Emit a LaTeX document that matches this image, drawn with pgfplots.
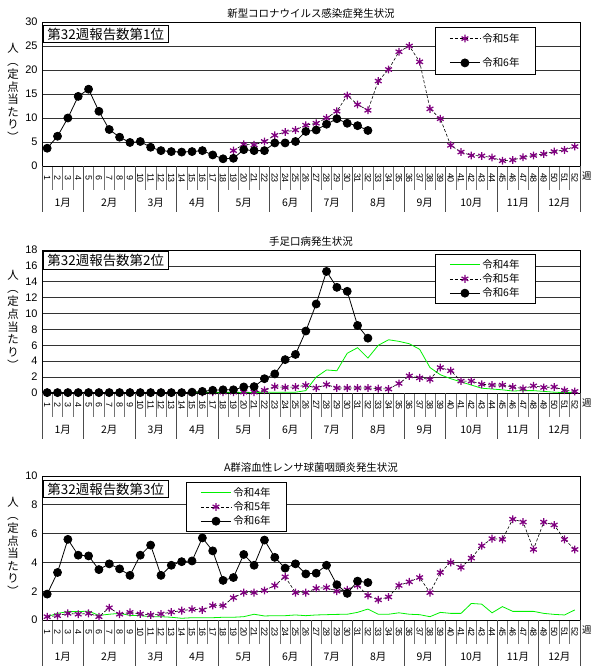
\documentclass[border=0pt]{standalone}
\usepackage{pgfplots}
\pgfplotsset{compat=1.18}
\usepackage{graphicx}
\usepackage{fontspec}
\setmainfont{Liberation Sans}
\newfontfamily\jp{Noto Sans CJK JP}
\definecolor{rpurple}{RGB}{128,0,128}
\definecolor{rgreen}{RGB}{0,240,0}

\pgfplotsset{
  panel/.style={
    scale only axis, width=538bp,
    xmin=0.5, xmax=52.5, ymin=0,
    xtick={1,...,52},
    xtick pos=bottom, ytick pos=left,
    tick align=outside,
    major tick length=0pt,
    minor xtick={0.5,1.5,...,52.5},
    minor tick length=24bp,
    minor tick style={black!55, line width=0.6bp},
    extra x ticks={0.5,4.5,9.5,13.5,17.5,22.5,26.5,30.5,35.5,39.5,44.5,48.5,52.5},
    extra x tick labels={},
    extra x tick style={major tick length=46bp, major tick style={black!70, line width=0.7bp}},
    ymajorgrids, major grid style={black!80, line width=0.7bp},
    axis line style={black, line width=0.8bp},
    /pgf/number format/assume math mode=true,
    yticklabel style={font=\fontsize{11}{12}\selectfont, xshift=-1bp},
    xticklabel style={font=\fontsize{9}{9}\selectfont, yshift=-12bp, rotate=-90, anchor=center},
    clip=false,
    title style={font=\jp\fontsize{10.5}{12}\selectfont, yshift=-6bp},
    legend cell align=left,
    legend style={draw=black, line width=0.8bp, fill=white, font=\jp\fontsize{10.5}{11}\selectfont, inner xsep=14bp, inner ysep=3bp},
    legend image code/.code={\draw[mark repeat=2,mark phase=2,##1] plot coordinates {(0bp,0bp) (15bp,0bp) (30bp,0bp)};},
  },
  r4/.style={rgreen, line width=0.8bp, no markers},
  r5/.style={black, densely dashed, line width=0.6bp, mark=asterisk, mark size=3.9bp, mark options={solid, draw=rpurple, line width=1.25bp}},
  r6/.style={black, line width=0.8bp, mark=*, mark size=4bp, mark options={solid, fill=black}},
}
\tikzset{
  mlab/.style={font=\jp\fontsize{10.5}{10.5}\selectfont, yshift=-37bp},
  rankbox/.style={draw=black, fill=white, line width=0.8bp, anchor=north west, font=\jp\fontsize{13.5}{13.5}\selectfont, inner xsep=4bp, inner ysep=2.5bp},
  ylab/.style={font=\jp\fontsize{11.5}{13}\selectfont, xshift=-29bp},
}

\newcommand\monthlabels{%
  \node[mlab] at (axis cs:2.5,0) {1月};
  \node[mlab] at (axis cs:7,0) {2月};
  \node[mlab] at (axis cs:11.5,0) {3月};
  \node[mlab] at (axis cs:15.5,0) {4月};
  \node[mlab] at (axis cs:20,0) {5月};
  \node[mlab] at (axis cs:24.5,0) {6月};
  \node[mlab] at (axis cs:28.5,0) {7月};
  \node[mlab] at (axis cs:33,0) {8月};
  \node[mlab] at (axis cs:37.5,0) {9月};
  \node[mlab] at (axis cs:42,0) {10月};
  \node[mlab] at (axis cs:46.5,0) {11月};
  \node[mlab] at (axis cs:50.5,0) {12月};
  \node[font=\jp\fontsize{9.5}{9.5}\selectfont, anchor=west, inner xsep=0pt] at (rel axis cs:1,0) [xshift=2bp, yshift=-10bp] {週};
  \node[ylab] at (rel axis cs:0,0.5) {\renewcommand{\arraystretch}{0.82}\begin{tabular}{@{}c@{}}人\\\rotatebox[origin=c]{-90}{（}\\定\\点\\当\\た\\り\\\rotatebox[origin=c]{-90}{）}\end{tabular}};
}

\begin{document}
\begin{tikzpicture}[x=1bp,y=1bp]
\path[use as bounding box] (0,0) rectangle (592,666);

% ---------------- Panel 1 ----------------
\begin{axis}[panel, at={(42bp,500bp)}, anchor=south west, height=144bp,
  ymax=30, ytick={0,5,...,30},
  title={新型コロナウイルス感染症発生状況},
  legend style={at={(0.918,0.965)}, anchor=north east, row sep=10bp, inner ysep=4bp}]
\addplot[r5] coordinates {
(19,3.2)(20,4.5)(21,4.4)(22,5.1)(23,6.4)(24,7.1)(25,7.5)(26,8.5)(27,8.9)(28,10.0)
(29,11.4)(30,14.7)(31,12.8)(32,11.6)(33,17.7)(34,20.1)(35,23.8)(36,25.0)(37,21.7)(38,11.9)
(39,9.85)(40,4.3)(41,2.9)(42,2.2)(43,2.1)(44,1.75)(45,1.1)(46,1.25)(47,1.8)(48,2.2)
(49,2.5)(50,3.0)(51,3.35)(52,4.05)};
\addlegendentry{令和5年}
\addplot[r6] coordinates {
(1,3.7)(2,6.2)(3,10.0)(4,14.5)(5,16.0)(6,11.4)(7,7.6)(8,6.0)(9,4.9)(10,5.1)
(11,3.9)(12,3.2)(13,3.0)(14,2.9)(15,3.0)(16,3.2)(17,2.3)(18,1.5)(19,1.6)(20,3.4)
(21,3.2)(22,3.2)(23,4.8)(24,4.8)(25,5.1)(26,7.2)(27,7.5)(28,8.7)(29,9.85)(30,8.9)
(31,8.4)(32,7.4)};
\addlegendentry{令和6年}
\node[rankbox] at (rel axis cs:0.002,0.98) {第32週報告数第1位};
\monthlabels
\end{axis}

% ---------------- Panel 2 ----------------
\begin{axis}[panel, at={(42bp,273bp)}, anchor=south west, height=143bp,
  ymax=18, ytick={0,2,...,18},
  title={手足口病発生状況},
  legend style={at={(0.918,0.972)}, anchor=north east, row sep=0bp}]
\addplot[r4] coordinates {
(1,0.05)(2,0.05)(3,0.05)(4,0.05)(5,0.05)(6,0.05)(7,0.05)(8,0.05)(9,0.05)(10,0.05)
(11,0.05)(12,0.05)(13,0.05)(14,0.05)(15,0.05)(16,0.05)(17,0.05)(18,0.05)(19,0.05)(20,0.05)
(21,0.05)(22,0.1)(23,0.1)(24,0.1)(25,0.1)(26,0.3)(27,2.0)(28,2.9)(29,2.8)(30,5.0)
(31,5.7)(32,4.4)(33,6.0)(34,6.7)(35,6.5)(36,6.2)(37,5.5)(38,3.2)(39,2.3)(40,1.8)
(41,1.4)(42,1.0)(43,0.6)(44,0.5)(45,0.4)(46,0.25)(47,0.3)(48,0.3)(49,0.2)(50,0.1)
(51,0.05)(52,0.05)};
\addlegendentry{令和4年}
\addplot[r5] coordinates {
(1,0.05)(2,0.05)(3,0.05)(4,0.05)(5,0.05)(6,0.05)(7,0.05)(8,0.05)(9,0.05)(10,0.05)
(11,0.05)(12,0.05)(13,0.05)(14,0.05)(15,0.05)(16,0.05)(17,0.1)(18,0.1)(19,0.1)(20,0.1)
(21,0.1)(22,0.34)(23,0.8)(24,0.7)(25,0.76)(26,0.97)(27,0.63)(28,1.06)(29,0.63)(30,0.63)
(31,0.63)(32,0.63)(33,0.55)(34,0.5)(35,1.2)(36,2.15)(37,1.9)(38,1.7)(39,3.2)(40,2.8)
(41,1.5)(42,1.5)(43,1.1)(44,1.0)(45,1.0)(46,0.76)(47,0.55)(48,0.9)(49,0.7)(50,0.76)
(51,0.34)(52,0.2)};
\addlegendentry{令和5年}
\addplot[r6] coordinates {
(1,0.05)(2,0.05)(3,0.05)(4,0.05)(5,0.05)(6,0.05)(7,0.05)(8,0.05)(9,0.05)(10,0.05)
(11,0.05)(12,0.05)(13,0.05)(14,0.05)(15,0.1)(16,0.2)(17,0.34)(18,0.4)(19,0.4)(20,0.76)
(21,0.8)(22,1.8)(23,2.4)(24,4.2)(25,4.85)(26,7.8)(27,11.2)(28,15.3)(29,13.3)(30,12.8)
(31,8.5)(32,6.9)};
\addlegendentry{令和6年}
\node[rankbox] at (rel axis cs:0.002,0.993) {第32週報告数第2位};
\monthlabels
\end{axis}

% ---------------- Panel 3 ----------------
\begin{axis}[panel, at={(42bp,46bp)}, anchor=south west, height=144bp,
  ymax=10, ytick={0,2,...,10},
  title={A群溶血性レンサ球菌咽頭炎発生状況},
  legend style={at={(0.268,0.958)}, anchor=north west, row sep=0bp}]
\addplot[r4] coordinates {
(1,0.23)(2,0.46)(3,0.58)(4,0.58)(5,0.62)(6,0.32)(7,0.4)(8,0.46)(9,0.32)(10,0.3)
(11,0.23)(12,0.23)(13,0.19)(14,0.12)(15,0.16)(16,0.16)(17,0.16)(18,0.19)(19,0.19)(20,0.23)
(21,0.4)(22,0.28)(23,0.3)(24,0.3)(25,0.35)(26,0.3)(27,0.35)(28,0.37)(29,0.39)(30,0.4)
(31,0.53)(32,0.76)(33,0.4)(34,0.4)(35,0.5)(36,0.4)(37,0.37)(38,0.23)(39,0.53)(40,0.46)
(41,0.46)(42,1.15)(43,1.1)(44,0.5)(45,0.93)(46,0.6)(47,0.6)(48,0.6)(49,0.46)(50,0.39)
(51,0.35)(52,0.7)};
\addlegendentry{令和4年}
\addplot[r5] coordinates {
(1,0.23)(2,0.3)(3,0.46)(4,0.4)(5,0.46)(6,0.23)(7,0.85)(8,0.4)(9,0.53)(10,0.42)
(11,0.35)(12,0.42)(13,0.55)(14,0.65)(15,0.74)(16,0.7)(17,1.0)(18,1.0)(19,1.55)(20,1.9)
(21,1.9)(22,2.05)(23,2.4)(24,3.0)(25,1.9)(26,1.9)(27,2.2)(28,2.25)(29,2.0)(30,2.1)
(31,2.4)(32,1.7)(33,1.4)(34,1.6)(35,2.4)(36,2.65)(37,2.95)(38,1.9)(39,3.3)(40,4.0)
(41,3.65)(42,4.3)(43,5.15)(44,5.65)(45,5.6)(46,7.0)(47,6.8)(48,4.9)(49,6.8)(50,6.6)
(51,5.6)(52,4.9)};
\addlegendentry{令和5年}
\addplot[r6] coordinates {
(1,1.8)(2,3.3)(3,5.6)(4,4.5)(5,4.45)(6,3.5)(7,3.9)(8,3.55)(9,3.1)(10,4.5)
(11,5.2)(12,3.1)(13,3.8)(14,4.05)(15,4.1)(16,5.7)(17,4.8)(18,2.75)(19,2.95)(20,4.55)
(21,3.8)(22,5.55)(23,4.35)(24,3.6)(25,3.9)(26,3.2)(27,3.25)(28,3.8)(29,2.45)(30,1.85)
(31,2.7)(32,2.6)};
\addlegendentry{令和6年}
\node[rankbox] at (rel axis cs:0.002,0.973) {第32週報告数第3位};
\monthlabels
\end{axis}
\end{tikzpicture}
\end{document}
